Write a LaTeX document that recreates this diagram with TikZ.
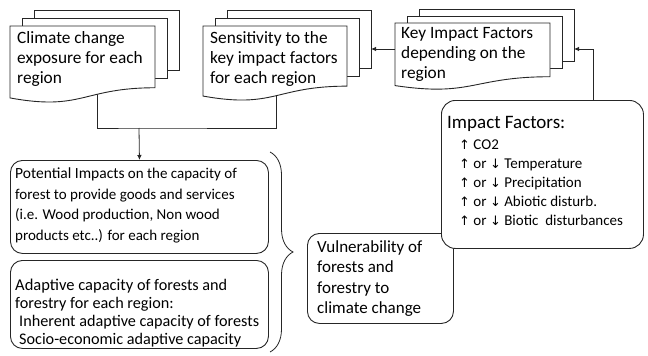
\documentclass[tikz,border=0pt]{standalone}
\usepackage{fontspec}
\setmainfont{Carlito}
\newfontfamily\arrowfont{DejaVu Sans}
\usetikzlibrary{arrows.meta,positioning,calc,decorations.pathreplacing}

% stack of three pages: x, y, width, height, x-offset, y-offset
\newcommand{\docstack}[6]{%
  \foreach \k in {2,1}{%
    \draw[page] (#1+\k*#5, #2-\k*#6) rectangle ++(#3, 0.78*#4);
  }%
  \draw[page] (#1,#2) -- ++(#3,0) -- ++(0,0.802*#4)
    .. controls (#1+0.5*#3, #2+0.802*#4) and (#1+0.5*#3, #2+1.107*#4)
    .. (#1, #2+0.934*#4) -- cycle;
}
\newcommand{\up}{{\arrowfont\fontsize{13}{13}\selectfont ↑}}
\newcommand{\down}{{\arrowfont\fontsize{13}{13}\selectfont ↓}}

\tikzset{
  page/.style={draw=black!85, fill=white, line width=0.9pt},
  box/.style={draw=black!85, fill=white, rounded corners=12pt, line width=0.9pt,
    inner sep=0pt, anchor=north west},
  txt/.style={inner sep=0pt, anchor=north west, align=left,
    font=\fontsize{17.3}{20}\selectfont},
  small/.style={inner sep=0pt, anchor=north west, align=left,
    font=\fontsize{15}{20.5}\selectfont},
  link/.style={line width=0.8pt, black!85},
  arr/.style={link, -{Latex[length=5pt,width=4.5pt]}},
}

\begin{document}
\begin{tikzpicture}[x=1pt, y=-1pt]
  \useasboundingbox (0,0) rectangle (648,356);

  % rounded boxes
  \node[box, minimum width=258pt, minimum height=93pt] (pot) at (10,160) {};
  \node[box, minimum width=258pt, minimum height=88pt] (adapt) at (10,260) {};
  \node[box, minimum width=146pt, minimum height=90pt] (vul) at (307,233) {};
  \node[box, minimum width=202pt, minimum height=148pt, rounded corners=14pt] (fac) at (441,100) {};

  % ends of the links inside the page stacks
  \coordinate (expo-out) at (97,80);
  \coordinate (sens-out) at (276,80);
  \coordinate (join) at (139,128);
  \coordinate (sens-in) at (371,49);
  \coordinate (key-out) at (395,49);
  \coordinate (key-in) at (574,49);

  % links (drawn first, the pages cover their ends)
  \draw[link] (expo-out) |- (join) -| (sens-out);
  \draw[arr] (join) -- (pot.north);
  \draw[arr] (key-out) -- (sens-in);
  \draw[arr] ([xshift=51pt]fac.north) |- (key-in);

  % page stacks
  \docstack{10}{26}{145}{77}{12}{8}
  \docstack{203}{26}{144}{75}{12}{8}
  \docstack{395}{23}{155}{67}{12}{7}

  \node[txt] (expo) at (17,31) {Climate change\\exposure for each\\region};
  \node[txt] (sens) at (210,31) {Sensitivity to the\\key impact factors\\for each region};
  \node[txt] (key) at (401,27) {Key Impact Factors\\depending on the\\region};

  % box texts
  \node[small] (pot-txt) at (15,168) {{\fontsize{15.5}{20.5}\selectfont Potential Impacts} on the capacity of\\
    forest to provide goods and services\\
    (i.e. Wood production, Non wood\\
    products etc..) for each region};
  \node[small, font=\fontsize{16.2}{17.8}\selectfont] (adapt-txt) at (15,279) {{\fontsize{16.5}{17.8}\selectfont Adaptive capacity} of forests and\\
    forestry for each region:\\
    \hspace{4pt}Inherent adaptive capacity of forests\\
    \hspace{4pt}Socio-economic adaptive capacity};
  \node[txt, font=\fontsize{17}{20.5}\selectfont] (vul-txt) at (317,240) {Vulnerability of\\forests and\\forestry to\\climate change};
  \node[txt, font=\fontsize{19}{20}\selectfont] (fac-title) at (447,116) {Impact Factors:};
  \node[small, font=\fontsize{15}{18.8}\selectfont] (fac-txt) at (459,140) {\up{} CO2\\
    \up{} or \down{} Temperature\\
    \up{} or \down{} Precipitation\\
    \up{} or \down{} Abiotic disturb.\\
    \up{} or \down{} Biotic\ \ disturbances};

  % brace gathering both boxes
  \draw[link, decorate, decoration={brace, amplitude=23pt}] (270,152) -- (270,352);
\end{tikzpicture}
\end{document}
